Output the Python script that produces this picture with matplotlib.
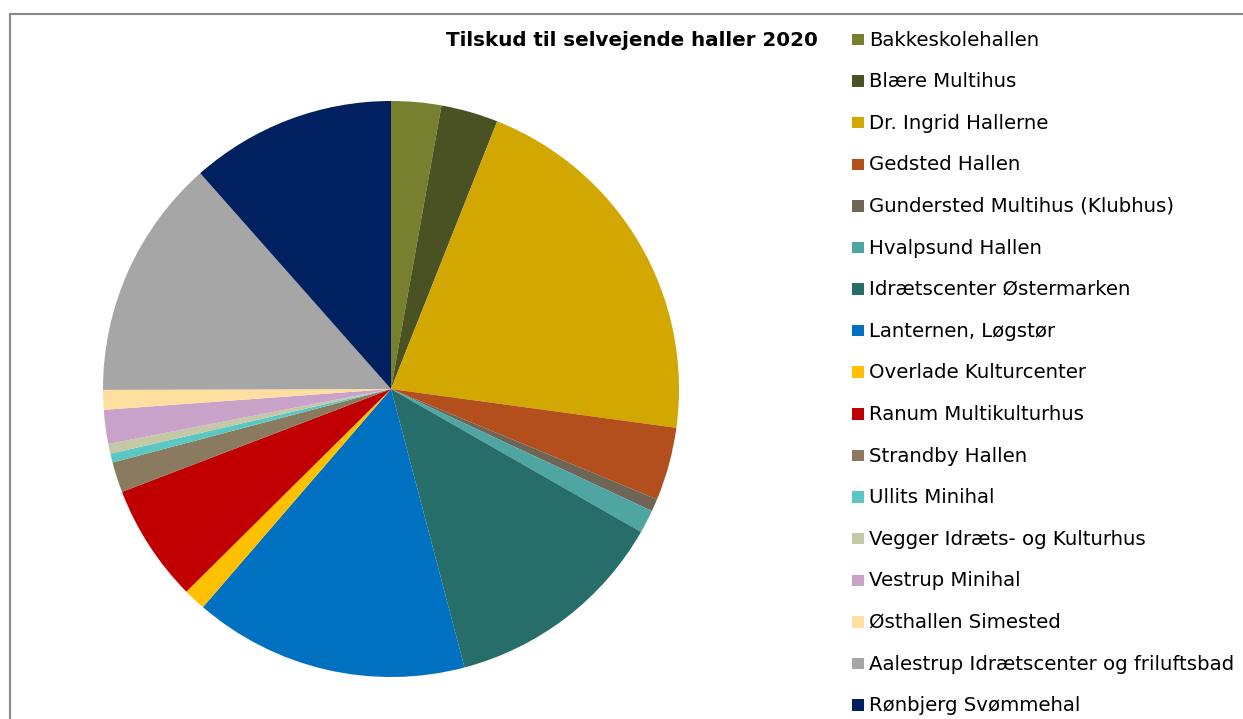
import matplotlib
matplotlib.use("Agg")
import matplotlib.pyplot as plt
from matplotlib.patches import Rectangle
from matplotlib.lines import Line2D

title = "Tilskud til selvejende haller 2020"
labels = [
    "Bakkeskolehallen", "Blære Multihus", "Dr. Ingrid Hallerne", "Gedsted Hallen",
    "Gundersted Multihus (Klubhus)", "Hvalpsund Hallen", "Idrætscenter Østermarken",
    "Lanternen, Løgstør", "Overlade Kulturcenter", "Ranum Multikulturhus",
    "Strandby Hallen", "Ullits Minihal", "Vegger Idræts- og Kulturhus",
    "Vestrup Minihal", "Østhallen Simested", "Aalestrup Idrætscenter og friluftsbad",
    "Rønbjerg Svømmehal",
]
values = [2.8, 3.2, 21.1, 4.1, 0.7, 1.3, 12.6, 15.4, 1.25, 6.6,
          1.7, 0.5, 0.55, 1.9, 1.1, 13.5, 11.5]
colors = ["#76802F", "#4A5122", "#D2A700", "#B34E1D", "#6E6556", "#4EA5A1",
          "#276E6A", "#0070C0", "#FFC000", "#C00000", "#8A7B60", "#5BC7C3",
          "#C4C8A6", "#C8A2C8", "#FFDFA0", "#A6A6A6", "#002060"]

W, H = 1243, 719
fig = plt.figure(figsize=(W / 100, H / 100), dpi=100)
fig.patch.set_facecolor("white")

cx, cy, r = 391, 389, 288
ax = fig.add_axes([(cx - r) / W, 1 - (cy + r) / H, 2 * r / W, 2 * r / H])
ax.pie(values, colors=colors, startangle=90, counterclock=False, radius=1,
       wedgeprops=dict(linewidth=0))
ax.set_xlim(-1, 1)
ax.set_ylim(-1, 1)
ax.set_aspect("equal")
ax.axis("off")

# frame border
fig.add_artist(Line2D([10 / W, 10 / W], [1 - 14 / H, 0], color="#898989", lw=1.5,
                      transform=fig.transFigure))
fig.add_artist(Line2D([10 / W, 1], [1 - 14 / H, 1 - 14 / H], color="#898989", lw=1.5,
                      transform=fig.transFigure))

fig.text(632 / W, 1 - 40 / H, title, ha="center", va="center",
         fontsize=14.3, fontweight="bold", color="#000000", family="DejaVu Sans")

y0, dy = 39.5, 41.6
for i, (lab, col) in enumerate(zip(labels, colors)):
    y = y0 + i * dy
    fig.add_artist(Rectangle((852 / W, 1 - (y + 5.7) / H), 11.5 / W, 11.5 / H,
                             facecolor=col, edgecolor="none", transform=fig.transFigure))
    fig.text(869 / W, 1 - (y - 1.5) / H, lab, ha="left", va="center_baseline",
             fontsize=14.2, color="#000000", family="DejaVu Sans")

fig.savefig("out.png", dpi=100, facecolor="white")
